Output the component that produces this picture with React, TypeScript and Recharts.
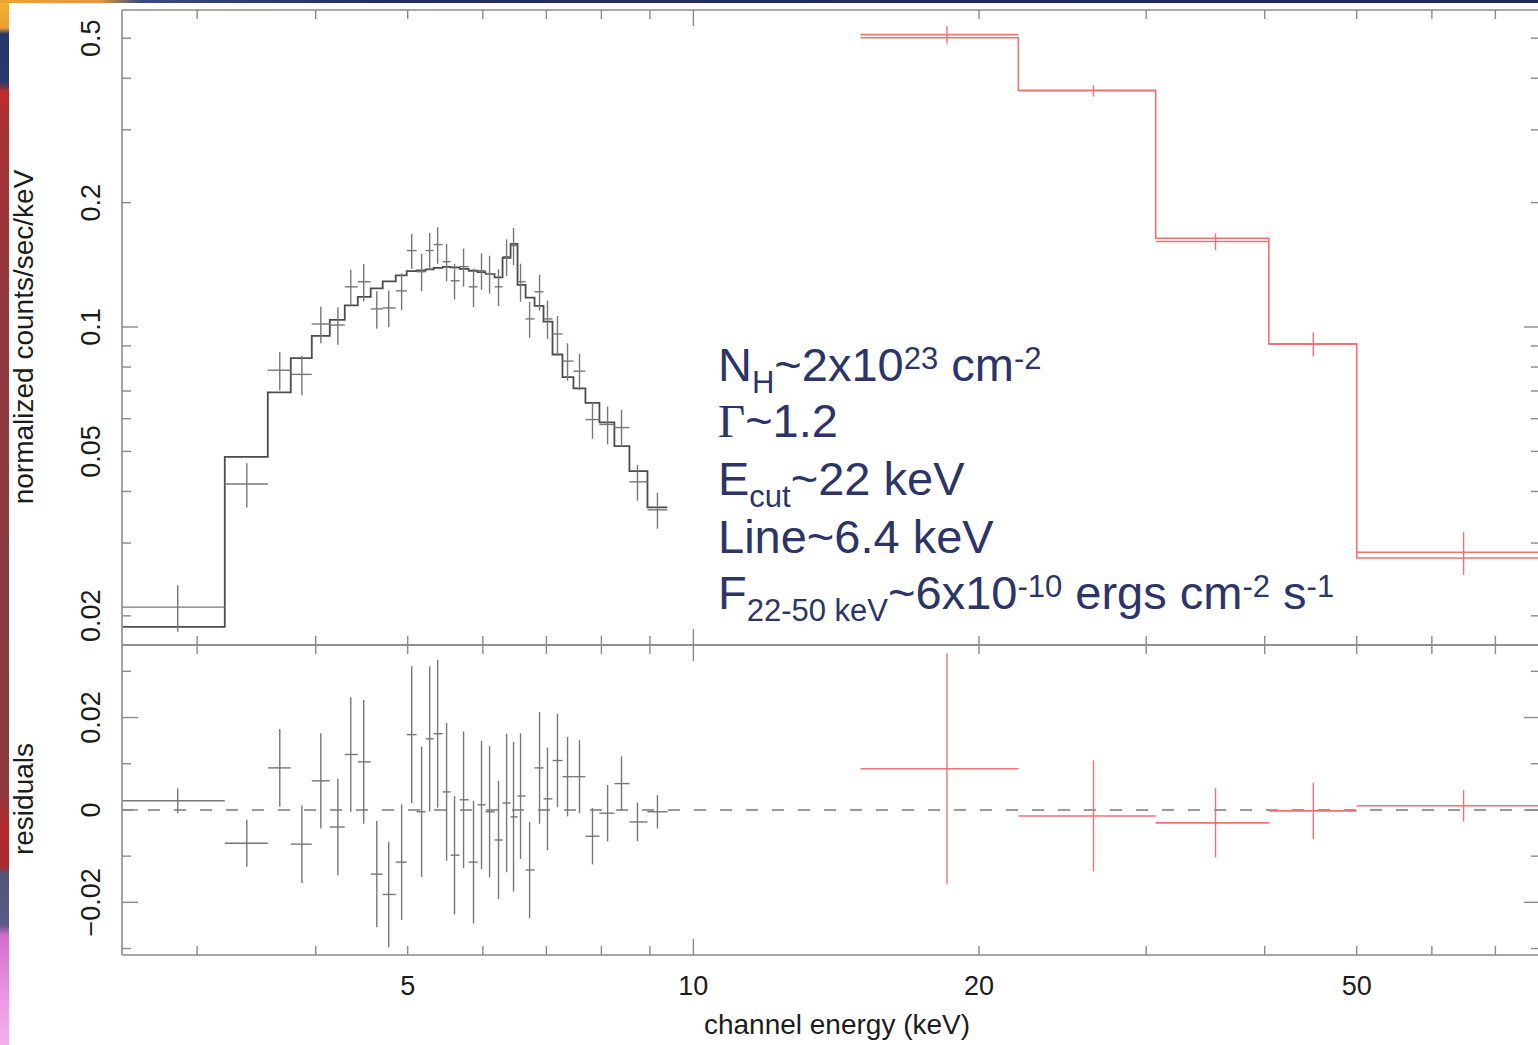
import React from 'react'
import { ComposedChart, ErrorBar, Line, ReferenceLine, Scatter, XAxis, YAxis } from 'recharts'

// Low-energy spectrum (black): bin edges, bin centres (keV), rate, 1-sigma error,
// folded model per bin and residual (data - model), all read off the plot.
const blackEdges = [
  2.505, 3.208, 3.561, 3.765, 3.962, 4.139, 4.292, 4.43, 4.571, 4.706, 4.857, 4.988, 5.11,
  5.223, 5.325, 5.443, 5.549, 5.671, 5.797, 5.924, 6.04, 6.173, 6.294, 6.418, 6.527, 6.656,
  6.802, 6.952, 7.105, 7.279, 7.476, 7.696, 7.962, 8.256, 8.563, 8.946, 9.389,
]
const blackEnergy = [
  2.862, 3.384, 3.666, 3.868, 4.05, 4.221, 4.355, 4.494, 4.639, 4.775, 4.927, 5.049, 5.172,
  5.274, 5.377, 5.495, 5.602, 5.726, 5.866, 5.981, 6.099, 6.233, 6.356, 6.464, 6.575, 6.721,
  6.885, 7.019, 7.191, 7.369, 7.586, 7.829, 8.121, 8.4, 8.732, 9.165,
]
const blackRate = [
  0.021, 0.0417, 0.0786, 0.0768, 0.1017, 0.1011, 0.1251, 0.1287, 0.1106, 0.1112, 0.1223,
  0.1531, 0.1361, 0.1531, 0.1583, 0.1439, 0.1294, 0.14, 0.1251, 0.1369, 0.1346, 0.1251,
  0.148, 0.1574, 0.1287, 0.1046, 0.1217, 0.1046, 0.0962, 0.0827, 0.0782, 0.0597, 0.0581,
  0.0571, 0.0422, 0.0361,
]
const blackErr = [
  0.0027, 0.0051, 0.0084, 0.0084, 0.0103, 0.0105, 0.0124, 0.0134, 0.0115, 0.0114, 0.0125,
  0.0148, 0.0141, 0.0157, 0.016, 0.0149, 0.0128, 0.0148, 0.0133, 0.0139, 0.0142, 0.0128,
  0.015, 0.0162, 0.0136, 0.0104, 0.0121, 0.0111, 0.0101, 0.0086, 0.0079, 0.0061, 0.0061,
  0.0059, 0.0042, 0.0036,
]
const blackModel = [
  0.0188, 0.0485, 0.0695, 0.0841, 0.0952, 0.104, 0.1128, 0.1183, 0.124, 0.129, 0.1333,
  0.1365, 0.137, 0.1378, 0.139, 0.1398, 0.1394, 0.1382, 0.1368, 0.1357, 0.1345, 0.1318,
  0.147, 0.159, 0.1265, 0.1178, 0.1125, 0.103, 0.0858, 0.0756, 0.071, 0.0655, 0.0588,
  0.0515, 0.0448, 0.0366,
]
const blackResid = [
  0.002, -0.0072, 0.0091, -0.0074, 0.0063, -0.0037, 0.012, 0.0104, -0.0139, -0.0183, -0.0113,
  0.0163, -0.0004, 0.0154, 0.0165, 0.0039, -0.0098, 0.0022, -0.0113, 0.0011, -0.0004,
  -0.0065, 0.0015, -0.0015, 0.003, -0.013, 0.0091, 0.0024, 0.0107, 0.0072, 0.0072, -0.0057,
  -0.0007, 0.0057, -0.0026, -0.0004,
]

// High-energy spectrum (red)
const redEdges = [15.0, 22.0, 30.7, 40.4, 50.0, 80.0]
const redEnergy = [18.5, 26.4, 35.5, 45.0, 64.8]
const redRate = [0.51, 0.373, 0.161, 0.0909, 0.0285]
const redErr = [0.025, 0.012, 0.0075, 0.0061, 0.0034]
const redModel = [0.501, 0.374, 0.164, 0.0911, 0.0276]
const redResid = [0.0089, -0.0013, -0.0028, -0.0002, 0.0009]

// axes
const xTicks = [3, 4, 5, 6, 7, 8, 9, 10, 20, 30, 40, 50, 60, 70]
const xLabels = [5, 10, 20, 50]
const xMajor = [10]
const rateTicks = [0.02, 0.03, 0.04, 0.05, 0.06, 0.07, 0.08, 0.09, 0.1, 0.2, 0.3, 0.4, 0.5]
const rateLabels = [0.02, 0.05, 0.1, 0.2, 0.5]
const rateMajor = [0.1]
const residTicks = [-0.03, -0.02, -0.01, 0, 0.01, 0.02, 0.03]
const residLabels = [-0.02, 0, 0.02]
const residMajor = [-0.02, 0, 0.02]

const X_DOMAIN: [number, number] = [2.5, 78]
const RATE_DOMAIN: [number, number] = [0.017, 0.585]
const RESID_DOMAIN: [number, number] = [-0.0314, 0.0357]

const W = 1560
const FRAME = '#8a8a8a'
const TXT = '#1c1c1c'
const NAVY = '#2c3468'
const BLACK_PT = '#777777'
const BLACK_MODEL = '#4c4c4c'
const RED = '#ee7272'
const SANS = '"Liberation Sans", Arial, Helvetica, sans-serif'
const SERIF = '"Liberation Serif", "Times New Roman", serif'

const blackPoints = blackEnergy.map((e, i) => ({
  e,
  rate: blackRate[i],
  resid: blackResid[i],
  err: blackErr[i],
  xErr: [e - blackEdges[i], blackEdges[i + 1] - e],
}))
const blackStep = blackEdges.map((e, i) => ({
  e,
  model: blackModel[Math.min(i, blackModel.length - 1)],
}))
const redPoints = redEnergy.map((e, i) => ({
  e,
  rate: redRate[i],
  resid: redResid[i],
  err: redErr[i],
  xErr: [e - redEdges[i], redEdges[i + 1] - e],
}))
const redStep = redEdges.map((e, i) => ({
  e,
  model: redModel[Math.min(i, redModel.length - 1)],
}))

const fmt = (v: number) => (v === 0 ? '0' : v < 0 ? '\u2212' + Math.abs(v) : String(v))

// ticks point into the frame (dir = +1 down / right, -1 up / left)
const xTick = (dir: number, showLabel: boolean) => (p: any) => {
  const v = p.payload.value
  const len = xMajor.includes(v) ? 16 : 9
  return (
    <g>
      <line x1={p.x} x2={p.x} y1={p.y} y2={p.y + dir * len} stroke={FRAME} strokeWidth={1.4} />
      {showLabel && xLabels.includes(v) && (
        <text x={p.x} y={p.y + 40} textAnchor="middle" fontSize={27} fontFamily={SANS} fill={TXT}>
          {v}
        </text>
      )}
    </g>
  )
}

const yTick = (dir: number, major: number[], labels: number[] | null) => (p: any) => {
  const v = p.payload.value
  const len = major.some((m) => Math.abs(m - v) < 1e-9) ? 16 : 9
  const lx = p.x - 22
  return (
    <g>
      <line x1={p.x} x2={p.x + dir * len} y1={p.y} y2={p.y} stroke={FRAME} strokeWidth={1.4} />
      {labels && labels.some((m) => Math.abs(m - v) < 1e-9) && (
        <text
          x={lx}
          y={p.y}
          transform={`rotate(-90 ${lx} ${p.y})`}
          textAnchor="middle"
          fontSize={27}
          fontFamily={SANS}
          fill={TXT}
        >
          {fmt(v)}
        </text>
      )}
    </g>
  )
}

const AXIS_LINE = { stroke: FRAME, strokeWidth: 1.6 }
const noShape = () => <g />

function Frame({ yTicks, yDomain, yMajor, yLabels, yScale, topH, bottomH }: any) {
  return [
    <XAxis
      key="xb"
      xAxisId="b"
      dataKey="e"
      type="number"
      scale="log"
      domain={X_DOMAIN}
      allowDataOverflow
      ticks={xTicks}
      interval={0}
      height={bottomH}
      tickSize={0}
      tickMargin={0}
      tickLine={false}
      axisLine={AXIS_LINE}
      tick={xTick(-1, bottomH > 50)}
    />,
    <XAxis
      key="xt"
      xAxisId="t"
      orientation="top"
      dataKey="e"
      type="number"
      scale="log"
      domain={X_DOMAIN}
      allowDataOverflow
      ticks={xTicks}
      interval={0}
      height={topH}
      tickSize={0}
      tickMargin={0}
      tickLine={false}
      axisLine={AXIS_LINE}
      tick={xTick(1, false)}
    />,
    <YAxis
      key="yl"
      yAxisId="l"
      type="number"
      scale={yScale}
      domain={yDomain}
      allowDataOverflow
      ticks={yTicks}
      interval={0}
      width={122}
      tickSize={0}
      tickMargin={0}
      tickLine={false}
      axisLine={AXIS_LINE}
      tick={yTick(1, yMajor, yLabels)}
    />,
    <YAxis
      key="yr"
      yAxisId="r"
      orientation="right"
      type="number"
      scale={yScale}
      domain={yDomain}
      allowDataOverflow
      ticks={yTicks}
      interval={0}
      width={20}
      tickSize={0}
      tickMargin={0}
      tickLine={false}
      axisLine={AXIS_LINE}
      tick={yTick(-1, yMajor, null)}
    />,
  ]
}

export default function App() {
  return (
    <div
      style={{
        position: 'fixed',
        left: 0,
        top: 0,
        width: 1538,
        height: 1045,
        background: '#ffffff',
        overflow: 'hidden',
      }}
    >
      {/* slide decoration: coloured left strip and top band */}
      <div
        style={{
          position: 'absolute',
          left: 0,
          top: 0,
          width: 9,
          height: 1045,
          background:
            'linear-gradient(#f4b232 0px, #eaa030 28px, #25366a 34px, #2a3a6e 82px, #c42a2a 92px, #a83232 118px, #92383e 300px, #8a3c42 600px, #8c3a3e 790px, #b42828 830px, #a82a30 866px, #4e5678 874px, #5a5a88 925px, #d26ccc 935px, #ec98e6 1000px, #f4b0ee 1045px)',
        }}
      />
      <div
        style={{
          position: 'absolute',
          left: 0,
          top: 0,
          width: 1538,
          height: 3,
          background: 'linear-gradient(90deg, #f0a030 0px, #e09a40 100px, #3a4a80 140px, #232c5c 400px, #1f2a5a 1538px)',
        }}
      />

      <div style={{ position: 'absolute', left: 0, top: 0 }}>
        <ComposedChart width={W} height={660} margin={{ top: 0, right: 0, bottom: 0, left: 0 }}>
          {Frame({
            yTicks: rateTicks,
            yDomain: RATE_DOMAIN,
            yMajor: rateMajor,
            yLabels: rateLabels,
            yScale: 'log',
            topH: 10,
            bottomH: 15,
          })}
          <Line
            xAxisId="b"
            yAxisId="l"
            data={blackStep}
            dataKey="model"
            type="stepAfter"
            stroke={BLACK_MODEL}
            strokeWidth={1.8}
            dot={false}
            isAnimationActive={false}
          />
          <Line
            xAxisId="b"
            yAxisId="l"
            data={redStep}
            dataKey="model"
            type="stepAfter"
            stroke={RED}
            strokeWidth={1.6}
            dot={false}
            isAnimationActive={false}
          />
          <Scatter
            xAxisId="b"
            yAxisId="l"
            data={blackPoints}
            dataKey="rate"
            shape={noShape}
            isAnimationActive={false}
          >
            <ErrorBar dataKey="err" direction="y" width={0} stroke={BLACK_PT} strokeWidth={1.4} />
            <ErrorBar dataKey="xErr" direction="x" width={0} stroke={BLACK_PT} strokeWidth={1.4} />
          </Scatter>
          <Scatter
            xAxisId="b"
            yAxisId="l"
            data={redPoints}
            dataKey="rate"
            shape={noShape}
            isAnimationActive={false}
          >
            <ErrorBar dataKey="err" direction="y" width={0} stroke={RED} strokeWidth={1.4} />
            <ErrorBar dataKey="xErr" direction="x" width={0} stroke={RED} strokeWidth={1.6} />
          </Scatter>
        </ComposedChart>
      </div>

      <div style={{ position: 'absolute', left: 0, top: 635 }}>
        <ComposedChart width={W} height={410} margin={{ top: 0, right: 0, bottom: 0, left: 0 }}>
          {Frame({
            yTicks: residTicks,
            yDomain: RESID_DOMAIN,
            yMajor: residMajor,
            yLabels: residLabels,
            yScale: 'linear',
            topH: 10,
            bottomH: 90,
          })}
          <ReferenceLine
            xAxisId="b"
            yAxisId="l"
            y={0}
            stroke="#7a7a7a"
            strokeWidth={1.5}
            strokeDasharray="12 14"
          />
          <Scatter
            xAxisId="b"
            yAxisId="l"
            data={blackPoints}
            dataKey="resid"
            shape={noShape}
            isAnimationActive={false}
          >
            <ErrorBar dataKey="err" direction="y" width={0} stroke={BLACK_PT} strokeWidth={1.4} />
            <ErrorBar dataKey="xErr" direction="x" width={0} stroke={BLACK_PT} strokeWidth={1.4} />
          </Scatter>
          <Scatter
            xAxisId="b"
            yAxisId="l"
            data={redPoints}
            dataKey="resid"
            shape={noShape}
            isAnimationActive={false}
          >
            <ErrorBar dataKey="err" direction="y" width={0} stroke={RED} strokeWidth={1.4} />
            <ErrorBar dataKey="xErr" direction="x" width={0} stroke={RED} strokeWidth={1.6} />
          </Scatter>
        </ComposedChart>
      </div>

      {/* axis titles and fit annotation */}
      <svg
        width={1538}
        height={1045}
        style={{ position: 'absolute', left: 0, top: 0, pointerEvents: 'none' }}
      >
        <g fontFamily={SANS} fill={TXT} fontSize={28}>
          <text x={837} y={1034} textAnchor="middle">
            channel energy (keV)
          </text>
          <text x={33} y={337} textAnchor="middle" transform="rotate(-90 33 337)">
            normalized counts/sec/keV
          </text>
          <text x={33} y={799} textAnchor="middle" transform="rotate(-90 33 799)">
            residuals
          </text>
        </g>
        <g fontFamily={SANS} fill={NAVY} fontSize={47} style={{ whiteSpace: 'pre' }}>
          <text x={718} y={381}>
            N<tspan fontSize={31} dy={12}>H</tspan>
            <tspan dy={-12}>~2x10</tspan>
            <tspan fontSize={31} dy={-12}>23</tspan>
            <tspan dy={12}>{' cm'}</tspan>
            <tspan fontSize={31} dy={-12}>-2</tspan>
          </text>
          <text x={718} y={437}>
            <tspan fontFamily={SERIF}>Γ</tspan>
            <tspan>~1.2</tspan>
          </text>
          <text x={718} y={495}>
            E<tspan fontSize={31} dy={12}>cut</tspan>
            <tspan dy={-12}>~22 keV</tspan>
          </text>
          <text x={718} y={553}>
            Line~6.4 keV
          </text>
          <text x={718} y={609}>
            F<tspan fontSize={31} dy={12}>22-50 keV</tspan>
            <tspan dy={-12}>~6x10</tspan>
            <tspan fontSize={31} dy={-12}>-10</tspan>
            <tspan dy={12}>{' ergs cm'}</tspan>
            <tspan fontSize={31} dy={-12}>-2</tspan>
            <tspan dy={12}>{' s'}</tspan>
            <tspan fontSize={31} dy={-12}>-1</tspan>
          </text>
        </g>
      </svg>
    </div>
  )
}
